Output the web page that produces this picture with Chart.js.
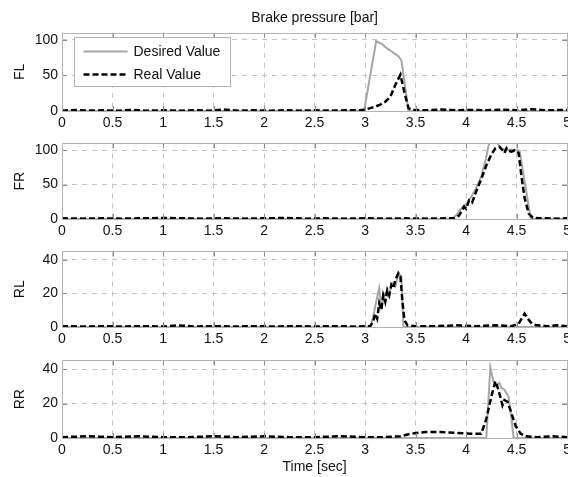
<!DOCTYPE html>
<html lang="en">
<head>
<meta charset="UTF-8">
<title>Brake pressure [bar]</title>
<style>
  body { margin: 0; background: #fff; }
  #wrap { position: relative; width: 568px; height: 477px; overflow: hidden; background: #fff; }
  #wrap canvas { position: absolute; left: 0; }
</style>
</head>
<body>
<div id="wrap">
  <canvas id="fl" width="575" height="135" style="top:0px"></canvas>
  <canvas id="fr" width="575" height="112" style="top:131px"></canvas>
  <canvas id="rl" width="575" height="112" style="top:239px"></canvas>
  <canvas id="rr" width="575" height="130" style="top:348px"></canvas>
</div>

<script src="https://cdn.jsdelivr.net/npm/chart.js"></script>
<script>
// tick labels
const xTicks = [0, 0.5, 1, 1.5, 2, 2.5, 3, 3.5, 4, 4.5, 5];
const yTicksFront = [0, 50, 100];
const yTicksRear = [0, 20, 40];

// FL
const flDesiredT = [0, 2.99, 3.11, 3.14, 3.17, 3.2, 3.23, 3.26, 3.3, 3.33, 3.36, 3.43, 5];
const flDesired  = [0, 0, 98, 96, 94, 90, 87, 84, 80, 77, 71, 0, 0];
const flRealT = [0, 0.15, 0.25, 0.4, 0.55, 0.7, 0.85, 1.0, 1.15, 1.3, 1.45, 1.6, 1.75, 1.9, 2.05, 2.2, 2.35, 2.5, 2.65, 2.8, 2.95,
                 3.0, 3.05, 3.1, 3.15, 3.2, 3.25, 3.3, 3.35, 3.39, 3.43, 3.47, 3.6, 3.75, 3.9, 4.05, 4.2, 4.35, 4.5, 4.65, 4.8, 5.0];
const flReal  = [0.5, 1.5, 0.5, 1, 0.5, 1.5, 0.5, 1, 0.5, 1, 0.5, 2, 0.5, 1, 0.5, 1, 0.5, 1, 0.5, 1, 1,
                 2, 4, 6, 9, 13, 20, 37, 51, 26, 4, 1.5, 1, 2, 1, 1.5, 1, 2, 1, 2.5, 1, 1.5];

// FR
const frDesiredT = [0, 3.85, 3.9, 3.95, 4.0, 4.05, 4.1, 4.15, 4.2, 4.23, 4.3, 4.35, 4.4, 4.45, 4.53, 4.64, 5];
const frDesired  = [0, 0, 5, 15, 22, 32, 45, 62, 90, 112, 112, 103, 100, 101, 99, 0, 0];
const frRealT = [0, 0.2, 0.4, 0.6, 0.8, 1.0, 1.2, 1.4, 1.6, 1.8, 2.0, 2.2, 2.4, 2.6, 2.8, 3.0, 3.2, 3.4, 3.6, 3.8,
                 3.88, 3.93, 3.95, 3.98, 4.0, 4.03, 4.06, 4.1, 4.15, 4.2, 4.25, 4.29, 4.33, 4.36, 4.38, 4.4, 4.42, 4.45,
                 4.48, 4.52, 4.55, 4.58, 4.62, 4.66, 4.72, 4.8, 4.9, 5.0];
const frReal  = [1, 0.5, 1, 0.5, 1, 1.5, 1, 0.5, 1, 0.5, 1, 1.5, 0.5, 1, 0.5, 1, 0.5, 1, 0.5, 1,
                 1, 5, 10, 18, 15, 27, 24, 40, 58, 78, 94, 103, 105, 100, 96, 103, 99, 98,
                 100, 96, 60, 30, 8, 2, 1, 1, 0.5, 1];

// RL
const rlDesiredT = [0, 3.05, 3.08, 3.11, 3.14, 3.16, 3.2, 3.23, 3.27, 3.3, 3.33, 3.36, 3.38, 5];
const rlDesired  = [0, 0, 6, 15, 23, 12, 20, 18, 26, 24, 32, 30, 0, 0];
const rlRealT = [0, 0.2, 0.4, 0.6, 0.8, 1.0, 1.15, 1.3, 1.5, 1.7, 1.9, 2.1, 2.3, 2.5, 2.7, 2.9,
                 3.05, 3.08, 3.1, 3.12, 3.14, 3.16, 3.18, 3.2, 3.22, 3.24, 3.26, 3.28, 3.3, 3.33, 3.35, 3.37, 3.39, 3.42,
                 3.5, 3.7, 3.9, 4.1, 4.3, 4.45, 4.52, 4.55, 4.58, 4.61, 4.65, 4.7, 4.8, 4.9, 5];
const rlReal  = [0.5, 0.3, 0.5, 0.3, 0.5, 0.3, 1, 0.3, 0.5, 0.3, 0.5, 0.3, 0.5, 0.3, 0.5, 0.3,
                 0.5, 3, 8, 5, 14, 10, 19, 15, 22, 19, 25, 23, 28, 32, 30, 15, 4, 1,
                 0.5, 0.5, 1, 0.5, 1, 0.5, 2, 5, 8, 5, 2, 1, 0.5, 1, 0.5];

// RR
const rrDesiredT = [0, 4.2, 4.24, 4.27, 4.3, 4.33, 4.35, 4.38, 4.42, 4.45, 4.47, 5];
const rrDesired  = [0, 0, 41, 33, 30, 32, 29, 28, 24, 11, 0, 0];
const rrRealT = [0, 0.25, 0.5, 0.75, 1.0, 1.25, 1.5, 1.75, 2.0, 2.25, 2.5, 2.75, 3.0, 3.2, 3.35, 3.45, 3.6, 3.75, 3.9, 4.05,
                 4.15, 4.2, 4.25, 4.29, 4.32, 4.36, 4.38, 4.41, 4.44, 4.49, 4.54, 4.59, 4.7, 4.85, 5];
const rrReal  = [0.5, 1, 0.5, 1, 0.5, 0.5, 1, 0.5, 1, 0.5, 0.5, 1, 0.5, 0.5, 1, 2.5, 3.5, 3.5, 3, 2.5,
                 2.5, 11, 24, 33, 28, 19, 22, 21, 16, 7, 2.5, 1, 0.5, 1, 0.5];

const FONT = "'Liberation Sans', Arial, Helvetica, sans-serif";
Chart.defaults.font.family = FONT;
Chart.defaults.font.size = 14;
Chart.defaults.color = '#111';

function pairs(ts, vs) {
    return ts.map((t, i) => ({ x: t, y: vs[i] }));
}

// box + inward tick marks like a matlab axes
const frame = {
    id: 'frame',
    afterDatasetsDraw(chart) {
        const { ctx, chartArea: a, scales: { x, y } } = chart;
        ctx.save();
        ctx.lineWidth = 1;
        ctx.strokeStyle = '#8c8c8c';
        ctx.beginPath();
        x.ticks.forEach(t => {
            const px = Math.round(x.getPixelForValue(t.value)) + 0.5;
            ctx.moveTo(px, a.bottom); ctx.lineTo(px, a.bottom - 5);
            ctx.moveTo(px, a.top); ctx.lineTo(px, a.top + 5);
        });
        y.ticks.forEach(t => {
            const py = Math.round(y.getPixelForValue(t.value)) + 0.5;
            ctx.moveTo(a.left, py); ctx.lineTo(a.left + 5, py);
            ctx.moveTo(a.right, py); ctx.lineTo(a.right - 5, py);
        });
        ctx.stroke();
        ctx.strokeStyle = '#b4b4b4';
        ctx.strokeRect(Math.round(a.left) + 0.5, Math.round(a.top) + 0.5, Math.round(a.width), Math.round(a.height));
        ctx.restore();
    }
};

// legend box drawn inside the plot area
const boxLegend = {
    id: 'boxLegend',
    afterDraw(chart) {
        const { ctx, chartArea: a } = chart;
        const bx = Math.round(a.left) + 12.5, by = Math.round(a.top) + 4.5;
        ctx.save();
        ctx.fillStyle = '#fff';
        ctx.fillRect(bx, by, 156, 49);
        ctx.strokeStyle = '#b4b4b4';
        ctx.lineWidth = 1;
        ctx.strokeRect(bx, by, 156, 49);
        ctx.font = '14px ' + FONT;
        ctx.textBaseline = 'middle';
        ctx.fillStyle = '#111';
        chart.data.datasets.forEach((ds, i) => {
            const ly = by + 14 + i * 23;
            ctx.strokeStyle = ds.borderColor;
            ctx.lineWidth = ds.borderWidth;
            ctx.setLineDash(ds.borderDash || []);
            ctx.beginPath();
            ctx.moveTo(bx + 9, ly);
            ctx.lineTo(bx + 53, ly);
            ctx.stroke();
            ctx.setLineDash([]);
            ctx.fillText(ds.label, bx + 59, ly + 1);
        });
        ctx.restore();
    }
};

function makePanel(id, name, yMax, yTicks, desT, desV, realT, realV, opts) {
    const gridOpts = { color: '#c4c4c4', lineWidth: 1, drawTicks: false };
    const borderOpts = { display: false, dash: [5, 5] };
    return new Chart(document.getElementById(id), {
        type: 'line',
        data: {
            datasets: [
                { label: 'Desired Value', data: pairs(desT, desV), borderColor: '#a6a6a6', borderWidth: 2, order: 1 },
                { label: 'Real Value', data: pairs(realT, realV), borderColor: '#000', borderWidth: 2.5, borderDash: [6, 3], order: 0 }
            ]
        },
        options: {
            responsive: false,
            animation: false,
            layout: { padding: { top: opts.padTop, left: 0, right: 0, bottom: 0 } },
            elements: { point: { radius: 0 }, line: { tension: 0 } },
            plugins: {
                legend: { display: false },
                tooltip: { enabled: false },
                title: opts.title
                    ? { display: true, fullSize: false, text: opts.title, color: '#111', font: { size: 14, weight: 'normal' }, padding: { top: 10, bottom: 6 } }
                    : { display: false }
            },
            scales: {
                x: {
                    type: 'linear',
                    min: 0,
                    max: 5,
                    afterBuildTicks: s => { s.ticks = xTicks.map(v => ({ value: v })); },
                    ticks: { padding: 4, maxRotation: 0, autoSkip: false, callback: v => String(v) },
                    grid: gridOpts,
                    border: borderOpts,
                    title: opts.xTitle
                        ? { display: true, text: opts.xTitle, padding: { top: 0, bottom: 2 } }
                        : { display: false },
                    afterFit: s => { s.height = opts.xHeight; }
                },
                y: {
                    min: 0,
                    max: yMax,
                    afterBuildTicks: s => { s.ticks = yTicks.map(v => ({ value: v })); },
                    ticks: { padding: 4, callback: v => String(v) },
                    grid: gridOpts,
                    border: borderOpts,
                    title: { display: true, text: name, padding: { top: 12, bottom: 0 } },
                    afterFit: s => { s.width = 62; }
                }
            }
        },
        plugins: opts.legend ? [frame, boxLegend] : [frame]
    });
}

makePanel('fl', 'FL', 110, yTicksFront, flDesiredT, flDesired, flRealT, flReal,
    { padTop: 0, xHeight: 24, title: 'Brake pressure [bar]', legend: true });
makePanel('fr', 'FR', 110, yTicksFront, frDesiredT, frDesired, frRealT, frReal,
    { padTop: 10, xHeight: 24 });
makePanel('rl', 'RL', 45, yTicksRear, rlDesiredT, rlDesired, rlRealT, rlReal,
    { padTop: 10, xHeight: 24 });
makePanel('rr', 'RR', 45, yTicksRear, rrDesiredT, rrDesired, rrRealT, rrReal,
    { padTop: 10, xHeight: 40, xTitle: 'Time [sec]' });
</script>
</body>
</html>
